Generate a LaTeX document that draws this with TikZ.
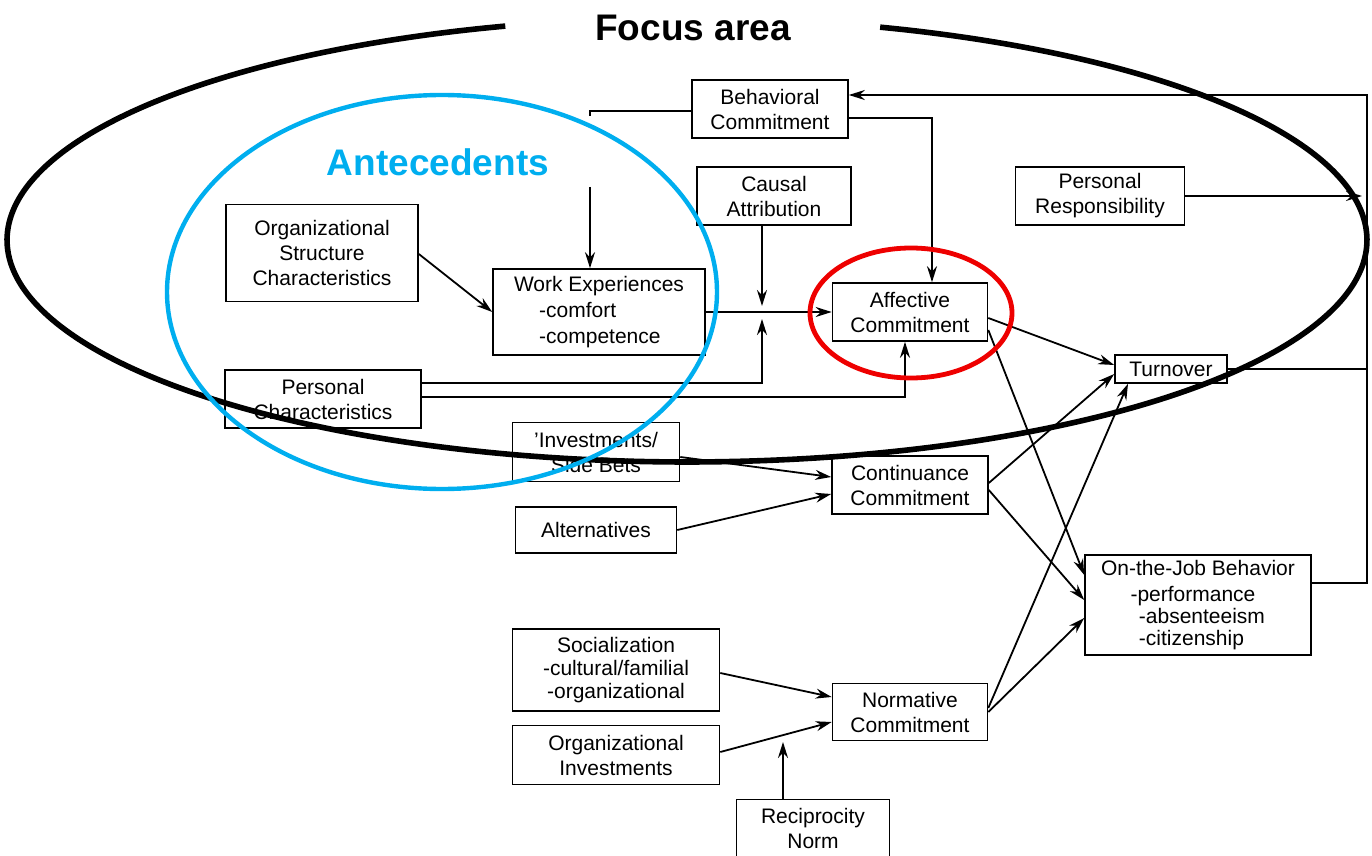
\documentclass[tikz,border=0pt]{standalone}
\usepackage{fontspec}
\setmainfont{Liberation Sans}
\usetikzlibrary{arrows.meta,calc}
\definecolor{antblue}{RGB}{0,174,239}
\definecolor{focusred}{RGB}{238,0,0}

\begin{document}
\begin{tikzpicture}[x=0.5pt, y=-0.5pt, >={Stealth[length=8pt,width=5pt]},
  box/.style={draw, line width=0.8pt, align=center, inner sep=2pt,
    font=\fontsize{10.5}{12.5}\selectfont},
  wire/.style={line width=0.9pt},
  link/.style={->, line width=0.9pt}]
  \useasboundingbox (0,0) rectangle (1372,856);

  %% Boxes (placed at pixel centres)
  \node[box, minimum width=78pt, minimum height=29pt] (bc) at (770,109) {Behavioral\\Commitment};
  \node[box, minimum width=77pt, minimum height=29pt] (ca) at (774,196) {Causal\\Attribution};
  \node[box, minimum width=84.5pt, minimum height=29pt] (pr) at (1100,196) {Personal\\Responsibility};
  \node[box, minimum width=96pt, minimum height=48.5pt] (osc) at (322,253) {Organizational\\Structure\\Characteristics};
  \node[box, minimum width=106pt, minimum height=43pt, align=left,
    font=\fontsize{10.5}{13}\selectfont] (we) at (599,312)
    {Work Experiences\\\hspace*{1.2em}-comfort\\\hspace*{1.2em}-competence};
  \node[box, minimum width=77.5pt, minimum height=29pt] (ac) at (910,312) {Affective\\Commitment};
  \node[box, minimum width=98pt, minimum height=29pt] (pc) at (323,399) {Personal\\Characteristics};
  \node[box, minimum width=56pt, minimum height=14pt, inner sep=1pt] (to) at (1171,369) {Turnover};
  \node[box, minimum width=83.5pt, minimum height=29.5pt] (isb) at (596,452) {'Investments/\\Side Bets};
  \node[box, minimum width=78pt, minimum height=29pt] (cc) at (910,485) {Continuance\\Commitment};
  \node[box, minimum width=80.5pt, minimum height=23pt] (al) at (596,530) {Alternatives};
  \node[box, minimum width=113pt, minimum height=50pt, align=left,
    font=\fontsize{10.5}{11}\selectfont] (ojb) at (1198,605)
    {On-the-Job Behavior\\[2pt]\hspace*{1.4em}-performance\\\hspace*{1.8em}-absenteeism\\\hspace*{1.8em}-citizenship};
  \node[box, minimum width=103.5pt, minimum height=41pt,
    font=\fontsize{10.5}{11.5}\selectfont] (so) at (616,670) {Socialization\\-cultural/familial\\-organizational};
  \node[box, minimum width=77.5pt, minimum height=28.5pt] (nc) at (910,712) {Normative\\Commitment};
  \node[box, minimum width=103.5pt, minimum height=29.5pt] (oi) at (616,755) {Organizational\\Investments};
  \node[box, minimum width=76.5pt, minimum height=28.5pt] (rn) at (813,828) {Reciprocity\\Norm};

  %% Free ends
  \coordinate (wetop) at (590,187);
  \coordinate (jt) at (762,306);
  \coordinate (jb) at (762,319);
  \coordinate (rntip) at (783,742);

  %% Behavioral commitment links
  \draw[wire] (bc.west |- 0,111) -- (590,111) -- (590,116);
  \draw[link] (wetop) -- (wetop |- we.north);
  \draw[link] (bc.east |- 0,118) -| (ac.north -| 932,0);

  %% Feedback loop on the right
  \draw[link] (ojb.east |- 0,583) -| (1367,95) -- (bc.east |- 0,95);
  \draw[wire] (to.east) -- (to.east -| 1367,0);
  \draw[link] (pr.east) -- (pr.east -| 1362,0);

  %% Affective commitment inputs
  \draw[link] (osc.east |- 0,254) -- (we.west);
  \draw[link] (we.east) -- (ac.west);
  \draw[link] (ca.south -| 762,0) -- (jt);
  \draw[link] (pc.east |- 0,383) -| (jb);
  \draw[link] (pc.east |- 0,397) -| (ac.south -| 905,0);

  %% Continuance and normative inputs
  \draw[link] (isb.east |- 0,457) -- (cc.west |- 0,477);
  \draw[link] (al.east) -- (cc.west |- 0,494);
  \draw[link] (so.east |- 0,673) -- (nc.west |- 0,697);
  \draw[link] (oi.east |- 0,752) -- (nc.west |- 0,722);
  \draw[link] (rn.north -| 783,0) -- (rntip);

  %% Outcomes
  \draw[link] (ac.east |- 0,318) -- (to.west |- 0,365);
  \draw[link] (ac.east |- 0,330) -- (ojb.west |- 0,575);
  \draw[link] (cc.east |- 0,483) -- (to.west |- 0,374);
  \draw[link] (cc.east |- 0,490) -- (ojb.west |- 0,600);
  \draw[link] (nc.east |- 0,708) -- (to.south -| 1128,0);
  \draw[link] (nc.east |- 0,712) -- (ojb.west |- 0,618);

  %% Overlays
  \draw[line width=2.8pt] plot[domain=105.5:433.5, samples=160, smooth]
    ({687+680*cos(\x)}, {240-222*sin(\x)});
  \draw[antblue, line width=2.2pt] (442,292) ellipse [x radius=275, y radius=197];
  \draw[focusred, line width=2.4pt] (911,313) ellipse [x radius=101, y radius=65];
  \node[font=\bfseries\fontsize{18.5}{20}\selectfont] (focus) at (693,28) {Focus area};
  \node[font=\bfseries\fontsize{18.5}{20}\selectfont, text=antblue] (ante) at (438,162) {Antecedents};
\end{tikzpicture}
\end{document}
